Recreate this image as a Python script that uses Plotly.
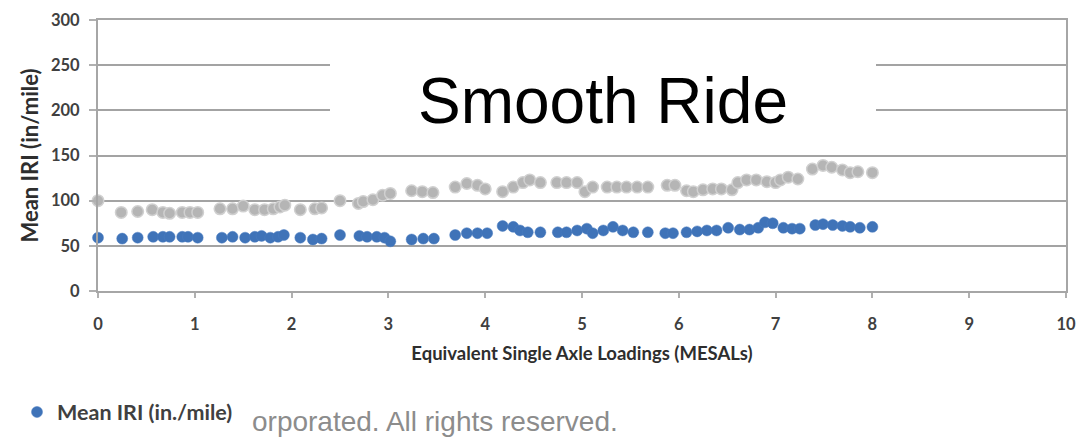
import plotly.graph_objects as go

# ---------------- data ----------------
blue_x = [0, 0.25, 0.41, 0.57, 0.67, 0.74, 0.87, 0.93, 1.03,
          1.28, 1.39, 1.52, 1.62, 1.69, 1.78, 1.86, 1.92,
          2.09, 2.22, 2.31, 2.5, 2.7, 2.78, 2.88, 2.96, 3.02,
          3.24, 3.36, 3.47, 3.69, 3.81, 3.92, 4.02,
          4.18, 4.29, 4.36, 4.44, 4.57, 4.75, 4.84, 4.95,
          5.05, 5.11, 5.22, 5.32, 5.42, 5.53, 5.68,
          5.86, 5.94, 6.08, 6.19, 6.29, 6.39, 6.51, 6.63,
          6.73, 6.82, 6.89, 6.97, 7.08, 7.17, 7.25,
          7.41, 7.49, 7.59, 7.69, 7.77, 7.87, 8.0]
blue_y = [59, 58, 59, 60, 60, 60, 60, 60, 59,
          59, 60, 59, 60, 61, 59, 60, 62,
          59, 57, 58, 62, 61, 60, 60, 59, 55,
          57, 58, 58, 62, 64, 64, 64,
          72, 71, 67, 65, 65, 65, 65, 67,
          69, 64, 67, 71, 67, 65, 65,
          64, 64, 65, 66, 67, 67, 70, 68,
          68, 70, 76, 75, 70, 69, 69,
          73, 74, 73, 72, 71, 70, 71]

gray_x = [0, 0.24, 0.41, 0.56, 0.67, 0.74, 0.87, 0.95, 1.03,
          1.26, 1.39, 1.5, 1.62, 1.72, 1.81, 1.88, 1.93,
          2.09, 2.24, 2.31, 2.5, 2.69, 2.74, 2.84, 2.94, 3.02,
          3.24, 3.35, 3.46, 3.69, 3.81, 3.92, 4.0,
          4.18, 4.29, 4.39, 4.46, 4.57, 4.74, 4.84, 4.95,
          5.03, 5.11, 5.26, 5.36, 5.46, 5.57, 5.68,
          5.88, 5.96, 6.08, 6.15, 6.25, 6.35, 6.44, 6.55,
          6.61, 6.7, 6.8, 6.91, 7.0, 7.05, 7.13, 7.23,
          7.38, 7.49, 7.58, 7.69, 7.77, 7.85, 8.0]
gray_y = [100, 87, 88, 90, 87, 86, 87, 87, 87,
          91, 91, 94, 90, 90, 91, 93, 95,
          90, 91, 92, 100, 97, 99, 101, 106, 108,
          111, 110, 109, 115, 119, 117, 113,
          110, 115, 120, 123, 120, 120, 120, 120,
          110, 115, 115, 115, 115, 115, 115,
          117, 117, 111, 110, 112, 113, 113, 112,
          120, 123, 123, 121, 120, 123, 126, 124,
          135, 139, 137, 134, 131, 132, 131]

x_ticks = [0, 1, 2, 3, 4, 5, 6, 7, 8, 9, 10]
y_ticks = [0, 50, 100, 150, 200, 250, 300]

title_text = "Smooth Ride"
x_title = "Equivalent Single Axle Loadings (MESALs)"
y_title = "Mean IRI (in/mile)"
legend_name = "Mean IRI (in./mile)"
footer_text = "orporated. All rights reserved."

# ---------------- figure ----------------
fig = go.Figure()

fig.add_trace(go.Scatter(
    x=gray_x, y=gray_y, mode="markers", showlegend=False,
    name="Gray series",
    marker=dict(size=11.5, color="#b5b5b5", line=dict(color="#d0d0d0", width=1.5)),
    cliponaxis=False,
))
fig.add_trace(go.Scatter(
    x=blue_x, y=blue_y, mode="markers", name=legend_name,
    marker=dict(size=11, color="#3f73b8", line=dict(color="#4a7cc0", width=0.5)),
    cliponaxis=False,
))

tickfont = dict(family="Lato, 'Open Sans', sans-serif", size=16.5, color="#404040", weight=700)
xtitlefont = dict(family="Lato, 'Open Sans', sans-serif", size=18.5, color="#2e2e2e", weight=700)
ytitlefont = dict(family="Lato, 'Open Sans', sans-serif", size=22, color="#2e2e2e", weight=700)

PW = 1076 - 98 - 10
PH = 437 - 20 - 146

fig.update_layout(
    width=1076, height=437,
    margin=dict(l=98, r=10, t=20, b=146, autoexpand=False),
    paper_bgcolor="white", plot_bgcolor="white",
    showlegend=True,
    legend=dict(
        x=(17 - 98) / PW, y=(291 - 412) / PH, xanchor="left", yanchor="middle",
        font=dict(family="Lato, 'Open Sans', sans-serif", size=21.5, color="#404040", weight=700),
        bgcolor="rgba(255,255,255,0)", itemwidth=30,
    ),
    xaxis=dict(
        range=[0, 10], tickvals=x_ticks, ticktext=[str(v) for v in x_ticks],
        showgrid=False, zeroline=False, automargin=False,
        showline=True, linecolor="#a6a6a6", linewidth=2, mirror=True,
        ticks="outside", ticklen=5, tickcolor="#b0b0b0", tickwidth=1.5,
        tickfont=tickfont, ticklabelstandoff=12,
        title=dict(text=x_title, font=xtitlefont, standoff=14),
    ),
    yaxis=dict(
        range=[0, 300], tickvals=y_ticks, ticktext=[str(v) for v in y_ticks],
        showgrid=True, gridcolor="#a3a3a3", gridwidth=2, zeroline=False, automargin=False,
        showline=True, linecolor="#a6a6a6", linewidth=2, mirror=True,
        ticks="outside", ticklen=7, tickcolor="#b0b0b0", tickwidth=1.5,
        tickfont=tickfont, ticklabelstandoff=6,
        title=dict(text=y_title, font=ytitlefont, standoff=6),
    ),
    shapes=[dict(
        type="rect", xref="paper", yref="paper",
        x0=(330 - 98) / PW, x1=(876 - 98) / PW,
        y0=(291 - 152) / PH, y1=(291 - 35) / PH,
        fillcolor="white", line=dict(width=0), layer="above",
    )],
    annotations=[
        dict(text=title_text, xref="paper", yref="paper",
             x=(603 - 98) / PW, y=(291 - 101) / PH,
             xanchor="center", yanchor="middle", showarrow=False,
             font=dict(family="'Liberation Sans', Arial, sans-serif", size=64, color="black")),
        dict(text=footer_text, xref="paper", yref="paper",
             x=(250 - 98) / PW, y=(291 - 422) / PH,
             xanchor="left", yanchor="middle", showarrow=False,
             font=dict(family="'Liberation Sans', Arial, sans-serif", size=28, color="#8c8c8c")),
    ],
)

fig.write_html("out.html")
